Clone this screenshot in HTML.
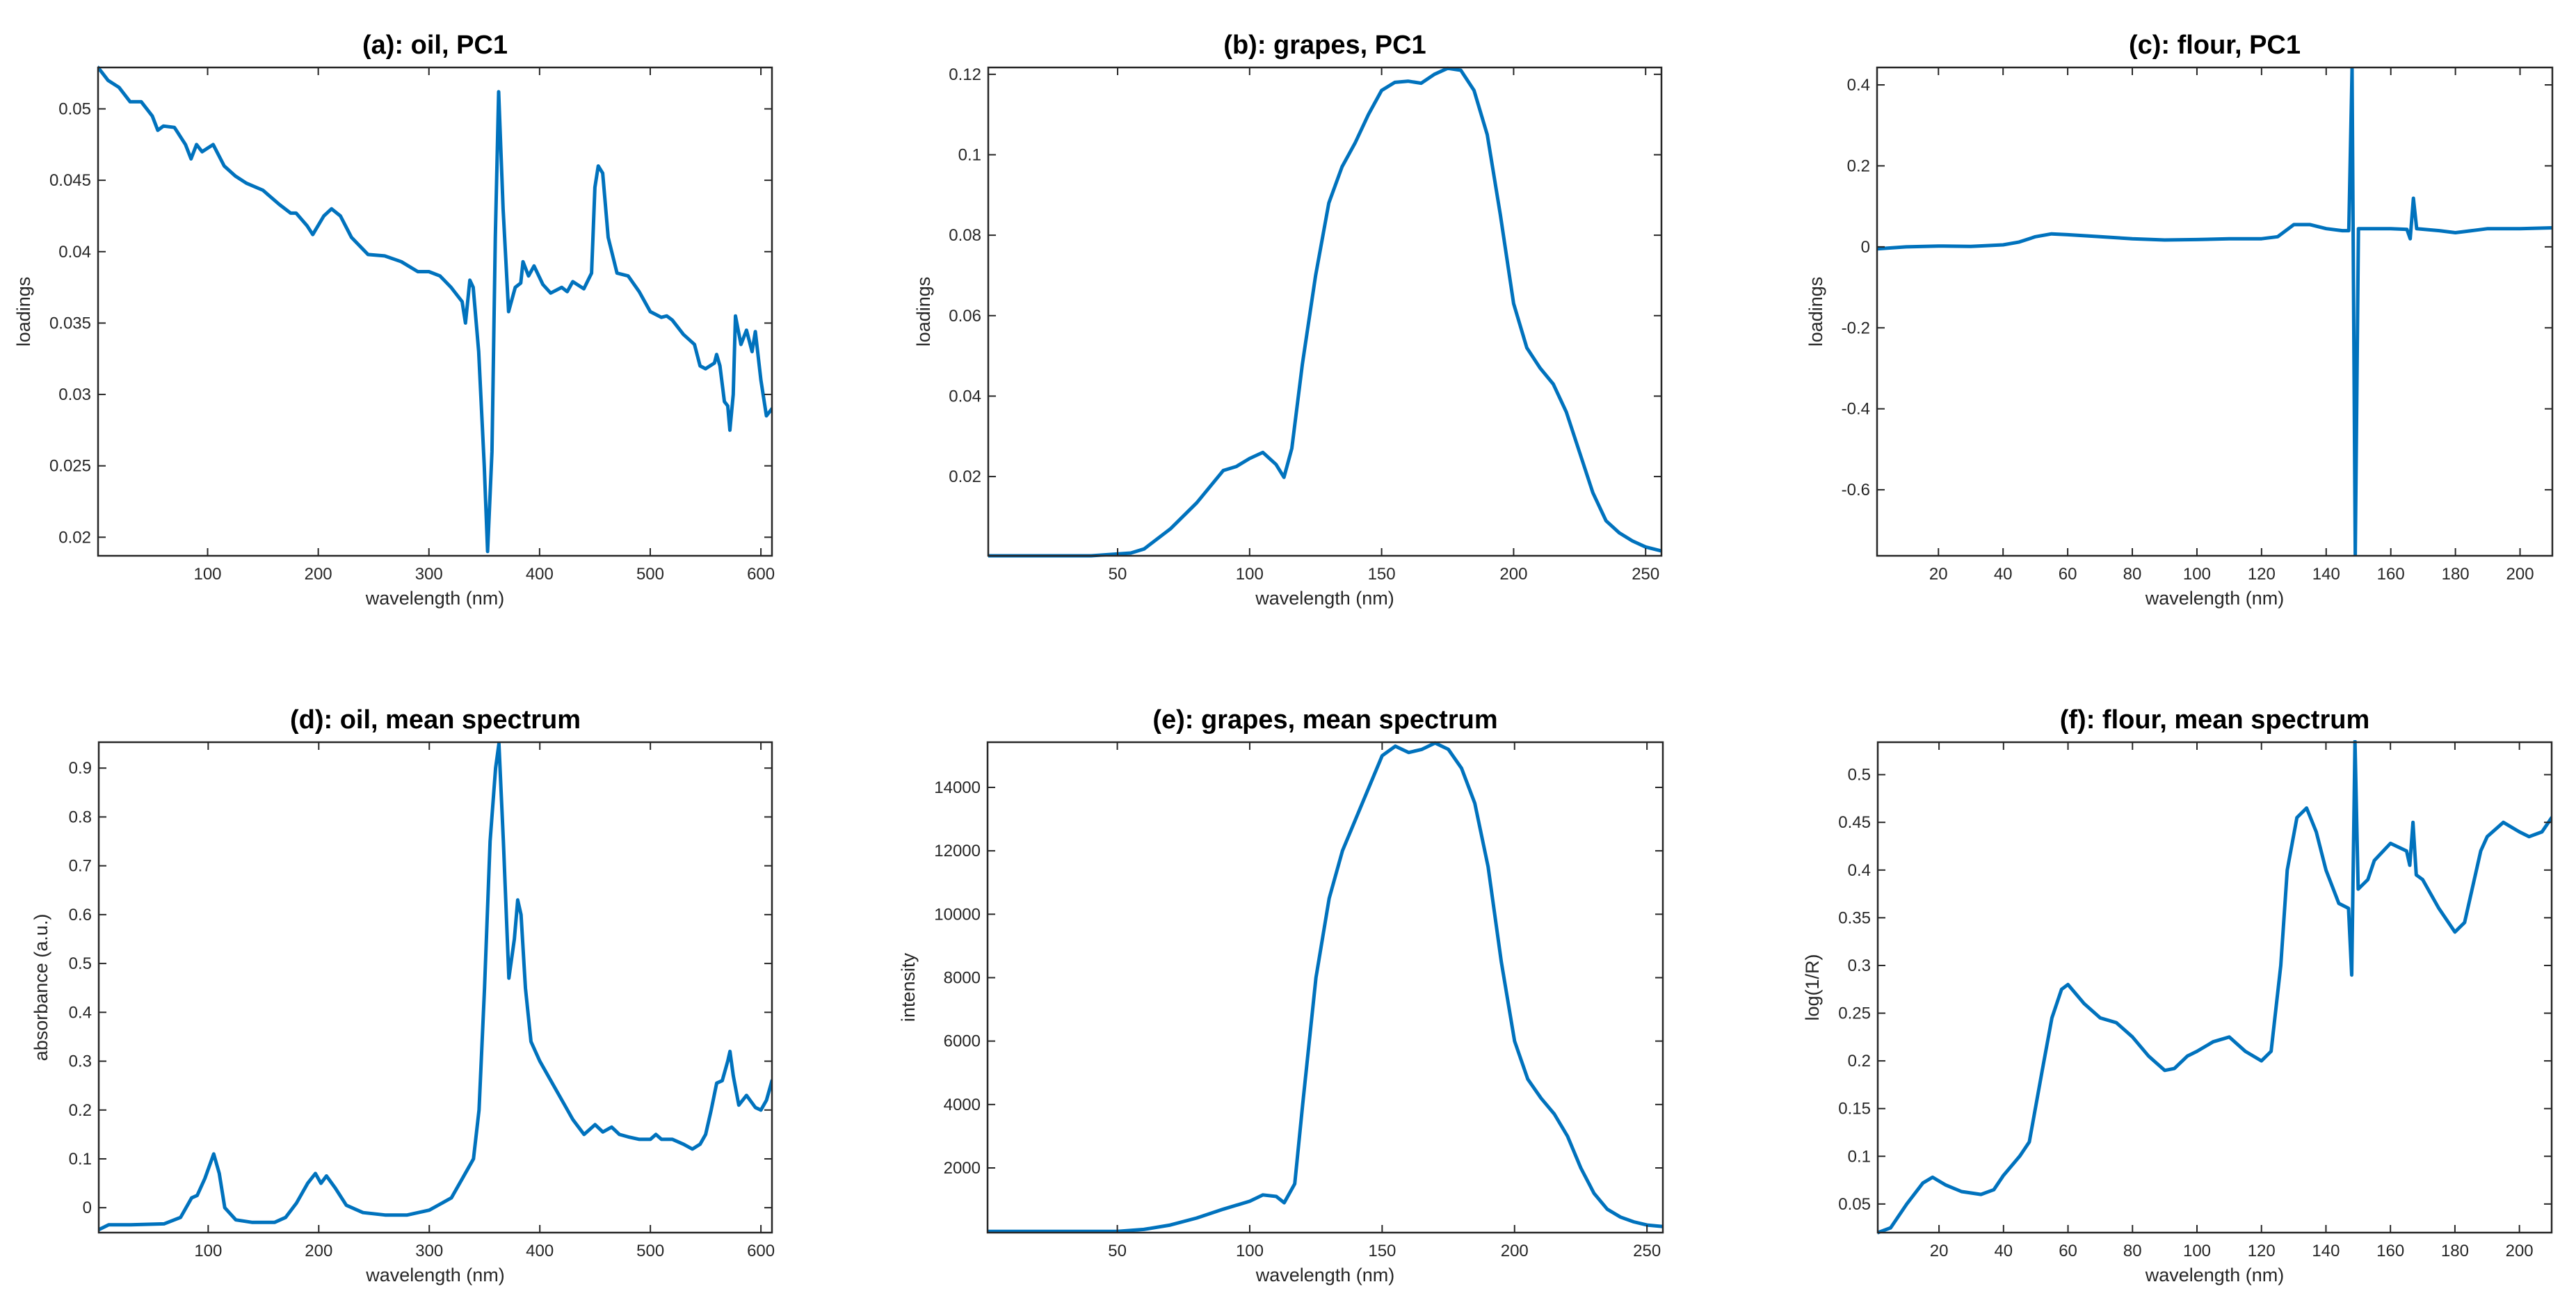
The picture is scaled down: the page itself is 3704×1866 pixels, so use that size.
<!DOCTYPE html>
<html><head><meta charset="utf-8"><style>
html,body{margin:0;padding:0;background:#fff;}
svg{display:block;font-family:"Liberation Sans",Arial,sans-serif;}
</style></head><body>
<svg id="fig" width="3704" height="1866" viewBox="0 0 3704 1866" xmlns="http://www.w3.org/2000/svg"></svg>
<script>
// ---- data arrays ----
const aX=[1,5,10,20,30,40,50,55,60,70,80,85,90,95,105,115,125,135,150,165,175,180,190,195,205,212,220,230,245,260,275,290,300,310,320,330,333,337,340,345,350,353,357,360,363,367,372,378,383,385,390,395,403,410,420,425,430,440,447,450,453,457,462,470,480,490,500,510,515,520,530,540,545,550,558,560,563,567,570,572,575,577,582,587,592,595,600,605,610];
const aY=[0.0529,0.0525,0.052,0.0515,0.0505,0.0505,0.0495,0.0485,0.0488,0.0487,0.0475,0.0465,0.0475,0.047,0.0475,0.046,0.0453,0.0448,0.0443,0.0433,0.0427,0.0427,0.0418,0.0412,0.0425,0.043,0.0425,0.041,0.0398,0.0397,0.0393,0.0386,0.0386,0.0383,0.0375,0.0365,0.035,0.038,0.0375,0.033,0.025,0.019,0.026,0.041,0.0512,0.043,0.0358,0.0375,0.0378,0.0393,0.0383,0.039,0.0377,0.0371,0.0375,0.0372,0.0379,0.0374,0.0385,0.0445,0.046,0.0455,0.041,0.0385,0.0383,0.0372,0.0358,0.0354,0.0355,0.0352,0.0342,0.0335,0.032,0.0318,0.0322,0.0328,0.032,0.0295,0.0292,0.0275,0.03,0.0355,0.0335,0.0345,0.033,0.0344,0.031,0.0285,0.029];
const bX=[1,40,55,60,70,80,90,95,100,105,110,113,116,120,125,130,135,140,145,150,155,160,165,170,175,180,185,190,195,200,205,210,215,220,225,230,235,240,245,250,256];
const bY=[0.0003,0.0003,0.001,0.002,0.007,0.0135,0.0215,0.0225,0.0245,0.026,0.023,0.0198,0.027,0.048,0.07,0.088,0.097,0.103,0.11,0.116,0.118,0.1183,0.1178,0.12,0.1215,0.121,0.116,0.105,0.085,0.063,0.052,0.047,0.043,0.036,0.026,0.016,0.009,0.006,0.004,0.0025,0.0015];
const cX=[1,10,20,30,40,45,50,55,60,70,80,90,100,110,120,125,130,135,140,145,147,148,149,150,155,160,165,166,167,168,175,180,185,190,200,210];
const cY=[-0.005,0,0.002,0.001,0.005,0.012,0.025,0.032,0.03,0.025,0.02,0.017,0.018,0.02,0.02,0.025,0.055,0.055,0.045,0.04,0.04,0.44,-0.76,0.045,0.045,0.045,0.043,0.02,0.12,0.045,0.04,0.035,0.04,0.045,0.045,0.047];
const dX=[1,10,30,60,75,85,90,97,105,110,115,125,140,160,170,180,190,197,202,207,215,225,240,260,280,300,320,330,340,345,350,355,360,363,367,372,377,380,383,387,392,400,410,420,430,440,450,457,465,472,480,490,500,505,510,520,530,538,545,550,555,560,565,570,572,575,580,587,595,600,605,610];
const dY=[-0.045,-0.035,-0.035,-0.033,-0.02,0.02,0.025,0.06,0.11,0.07,0.0,-0.025,-0.03,-0.03,-0.02,0.01,0.05,0.07,0.05,0.065,0.04,0.005,-0.01,-0.015,-0.015,-0.005,0.02,0.06,0.1,0.2,0.45,0.75,0.9,0.95,0.75,0.47,0.55,0.63,0.6,0.45,0.34,0.3,0.26,0.22,0.18,0.15,0.17,0.155,0.165,0.15,0.145,0.14,0.14,0.15,0.14,0.14,0.13,0.12,0.13,0.15,0.2,0.255,0.26,0.3,0.32,0.27,0.21,0.23,0.205,0.2,0.22,0.26];
const eX=[1,50,60,70,80,90,100,105,110,113,117,120,125,130,135,140,145,150,155,160,165,170,175,180,185,190,195,200,205,210,215,220,225,230,235,240,245,250,256];
const eY=[0,0,60,200,420,700,950,1150,1100,900,1500,4000,8000,10500,12000,13000,14000,15000,15300,15100,15200,15400,15200,14600,13500,11500,8500,6000,4800,4200,3700,3000,2000,1200,700,450,300,200,150];
const fX=[1,5,10,15,18,22,27,33,37,40,45,48,52,55,58,60,65,70,75,80,85,90,93,97,100,105,110,115,120,123,126,128,131,134,137,140,144,147,148,149,150,153,155,160,165,166,167,168,170,175,180,183,188,190,195,200,203,207,210];
const fY=[0.02,0.025,0.05,0.072,0.078,0.07,0.063,0.06,0.065,0.08,0.1,0.115,0.19,0.245,0.275,0.28,0.26,0.245,0.24,0.225,0.205,0.19,0.192,0.205,0.21,0.22,0.225,0.21,0.2,0.21,0.3,0.4,0.455,0.465,0.44,0.4,0.365,0.36,0.29,0.535,0.38,0.39,0.41,0.428,0.42,0.405,0.45,0.395,0.39,0.36,0.335,0.345,0.42,0.435,0.45,0.44,0.435,0.44,0.455];
const ticksX600=[100,200,300,400,500,600];
const ticksX250=[50,100,150,200,250];
const ticksX200=[20,40,60,80,100,120,140,160,180,200];
const ticksYa=[0.02,0.025,0.03,0.035,0.04,0.045,0.05];
const ticksYb=[0.02,0.04,0.06,0.08,0.1,0.12];
const ticksYc=[-0.6,-0.4,-0.2,0,0.2,0.4];
const ticksYd=[0,0.1,0.2,0.3,0.4,0.5,0.6,0.7,0.8,0.9];
const ticksYe=[2000,4000,6000,8000,10000,12000,14000];
const ticksYf=[0.05,0.1,0.15,0.2,0.25,0.3,0.35,0.4,0.45,0.5];

const NS="http://www.w3.org/2000/svg";
const svg=document.getElementById('fig');
function mk(tag,attrs,parent){const e=document.createElementNS(NS,tag);for(const k in attrs)e.setAttribute(k,attrs[k]);(parent||svg).appendChild(e);return e;}
function fmt(v){return String(Math.round(v*10000)/10000);}

const panels=[
 {id:'a',title:'(a): oil, PC1',yl:'loadings',L:141,R:1110,T:97,B:799,x0:1,x1:610,y0:0.0187,y1:0.0529,xs:aX,ys:aY,xt:ticksX600,yt:ticksYa,ylx:34},
 {id:'b',title:'(b): grapes, PC1',yl:'loadings',L:1421,R:2389,T:97,B:799,x0:1,x1:256,y0:0.0003,y1:0.1217,xs:bX,ys:bY,xt:ticksX250,yt:ticksYb,ylx:1328},
 {id:'c',title:'(c): flour, PC1',yl:'loadings',L:2699,R:3670,T:97,B:799,x0:1,x1:210,y0:-0.763,y1:0.443,xs:cX,ys:cY,xt:ticksX200,yt:ticksYc,ylx:2611},
 {id:'d',title:'(d): oil, mean spectrum',yl:'absorbance (a.u.)',L:142,R:1110,T:1067,B:1772,x0:1,x1:610,y0:-0.051,y1:0.953,xs:dX,ys:dY,xt:ticksX600,yt:ticksYd,ylx:59},
 {id:'e',title:'(e): grapes, mean spectrum',yl:'intensity',L:1420,R:2391,T:1067,B:1772,x0:1,x1:256,y0:-40,y1:15425,xs:eX,ys:eY,xt:ticksX250,yt:ticksYe,ylx:1306},
 {id:'f',title:'(f): flour, mean spectrum',yl:'log(1/R)',L:2700,R:3669,T:1067,B:1772,x0:1,x1:210,y0:0.020,y1:0.534,xs:fX,ys:fY,xt:ticksX200,yt:ticksYf,ylx:2606}
];

panels.forEach(p=>{
  const g=mk('g',{});
  
  
  const sx=v=>p.L+(v-p.x0)/(p.x1-p.x0)*(p.R-p.L);
  const sy=v=>p.B-(v-p.y0)/(p.y1-p.y0)*(p.B-p.T);
  const cp=mk('clipPath',{id:'clip'+p.id},g);
  mk('rect',{x:p.L,y:p.T-3,width:p.R-p.L,height:p.B-p.T+6},cp);
  // line
  let d='';
  p.xs.forEach((x,i)=>{d+=(i?'L':'M')+sx(x).toFixed(1)+' '+sy(p.ys[i]).toFixed(1);});
  const line=mk('path',{d:d,fill:'none',stroke:'#0072BD','stroke-width':5,'stroke-linejoin':'round','stroke-linecap':'round','clip-path':'url(#clip'+p.id+')'},g);
  
  
  // box
  const box=mk('rect',{x:p.L,y:p.T,width:p.R-p.L,height:p.B-p.T,fill:'none',stroke:'#262626','stroke-width':2.5},g);
  
  
  // x ticks
  p.xt.forEach(v=>{
    const x=sx(v);
    mk('line',{x1:x,y1:p.B,x2:x,y2:p.B-11,stroke:'#262626','stroke-width':2},g);
    mk('line',{x1:x,y1:p.T,x2:x,y2:p.T+11,stroke:'#262626','stroke-width':2},g);
    const t=mk('text',{x:x,y:p.B+34,'font-size':24,'text-anchor':'middle',fill:'#262626'},g);
    t.textContent=fmt(v);
    
    
  });
  p.yt.forEach(v=>{
    const y=sy(v);
    mk('line',{x1:p.L,y1:y,x2:p.L+11,y2:y,stroke:'#262626','stroke-width':2},g);
    mk('line',{x1:p.R,y1:y,x2:p.R-11,y2:y,stroke:'#262626','stroke-width':2},g);
    const t=mk('text',{x:p.L-10,y:y+8,'font-size':24,'text-anchor':'end',fill:'#262626'},g);
    t.textContent=fmt(v);
    
    
  });
  const xl=mk('text',{x:(p.L+p.R)/2,y:p.B+70,'font-size':27,'text-anchor':'middle',fill:'#262626'},g);
  xl.textContent='wavelength (nm)';
  
  
  const cy=(p.T+p.B)/2;
  const yl=mk('text',{x:p.ylx,y:cy,'font-size':27,'text-anchor':'middle',fill:'#262626',transform:'rotate(-90 '+p.ylx+' '+cy+')','dominant-baseline':'central'},g);
  yl.textContent=p.yl;
  
  
  const ti=mk('text',{x:(p.L+p.R)/2,y:p.T-20,'font-size':38,'font-weight':'bold','text-anchor':'middle',fill:'#000'},g);
  ti.textContent=p.title;
  
  
});
</script>
</body></html>
